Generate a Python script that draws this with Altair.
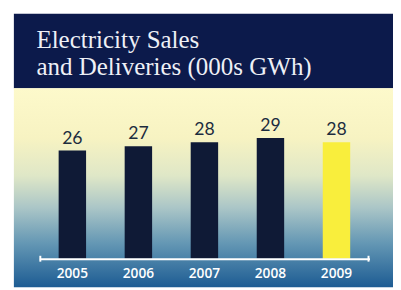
import altair as alt
import pandas as pd

years = ["2005", "2006", "2007", "2008", "2009"]
sales = [26, 27, 28, 29, 28]
highlight = [False, False, False, False, True]
title_lines = ["Electricity Sales", "and Deliveries (000s GWh)"]

df = pd.DataFrame({"year": years, "sales": sales, "hl": highlight})

W, H = 337, 174
PX_PER_UNIT = 4.25
navy_bar = "#0f1a36"
yellow = "#f9ee3c"
header_navy = "#0c1a4b"

bg = alt.Data(values=[{}])

header = alt.Chart(bg).mark_rect(color=header_navy).encode(
    x=alt.value(-26), x2=alt.value(361), y=alt.value(-76), y2=alt.value(0)
)

panel = alt.Chart(bg).mark_rect(
    fill=alt.Gradient(
        gradient="linear",
        x1=0, x2=0, y1=0, y2=1,
        stops=[
            alt.GradientStop(offset=0.0, color="#fdf9cb"),
            alt.GradientStop(offset=0.25, color="#f7f3c2"),
            alt.GradientStop(offset=0.44, color="#dfe7c7"),
            alt.GradientStop(offset=0.6, color="#abc6c7"),
            alt.GradientStop(offset=0.78, color="#6497b4"),
            alt.GradientStop(offset=1.0, color="#1d5c93"),
        ],
    )
).encode(x=alt.value(-26), x2=alt.value(361), y=alt.value(0), y2=alt.value(203))

title_style = dict(
    align="left", baseline="alphabetic", font="Liberation Serif",
    fontSize=25.5, color="#eef0f6",
)
title1 = alt.Chart(bg).mark_text(**title_style).encode(
    x=alt.value(-3), y=alt.value(-41), text=alt.value(title_lines[0])
)
title2 = alt.Chart(bg).mark_text(**title_style).encode(
    x=alt.value(-3), y=alt.value(-14), text=alt.value(title_lines[1])
)

x_enc = alt.X(
    "year:O",
    scale=alt.Scale(paddingInner=0, paddingOuter=0),
    axis=alt.Axis(
        title=None, labelAngle=0, ticks=False, grid=False,
        domainColor="white", domainWidth=2,
        labelColor="white", labelFont="Open Sans", labelFontWeight=600,
        labelFontSize=14, labelPadding=8, zindex=2,
    ),
)
y_enc = alt.Y(
    "sales:Q",
    scale=alt.Scale(domain=[0, H / PX_PER_UNIT], nice=False, zero=True),
    axis=None,
)

base = alt.Chart(df)
bars = base.mark_bar(width=28).encode(
    x=x_enc,
    y=y_enc,
    color=alt.condition(alt.datum.hl, alt.value(yellow), alt.value(navy_bar)),
)
labels = base.mark_text(
    dy=-7, baseline="alphabetic", font="Lato", fontSize=18, color="#1c2c3e"
).encode(x=x_enc, y=y_enc, text="sales:Q")

cap_left = alt.Chart(bg).mark_rule(color="white", strokeWidth=2).encode(
    x=alt.value(1), y=alt.value(H - 3), y2=alt.value(H + 3)
)
cap_right = alt.Chart(bg).mark_rule(color="white", strokeWidth=2).encode(
    x=alt.value(W - 1), y=alt.value(H - 3), y2=alt.value(H + 3)
)

chart = (
    alt.layer(header, panel, title1, title2, bars, labels, cap_left, cap_right)
    .properties(
        width=W,
        height=H,
        padding={"left": 32, "top": 79, "right": 24, "bottom": 29},
        autosize=alt.AutoSizeParams(type="none"),
        background="white",
    )
    .configure_view(stroke=None)
)

chart.save("out.html", embed_options={"renderer": "svg", "actions": False})
